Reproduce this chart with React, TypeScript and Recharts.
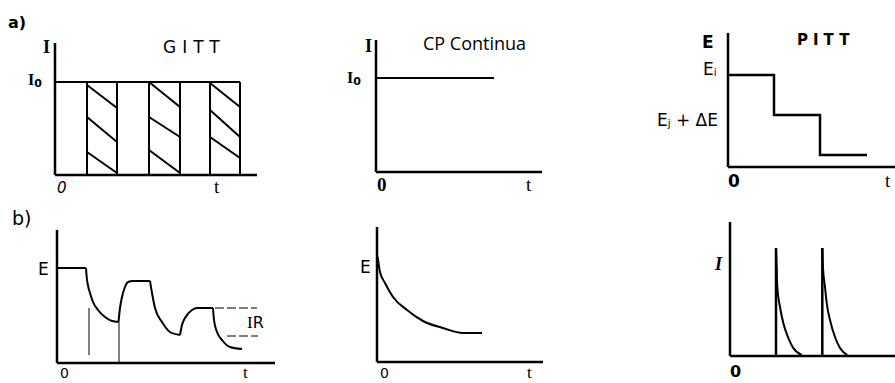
import React from 'react'
import { LineChart, Line, XAxis, YAxis } from 'recharts'

// one data unit = 10px in every panel
type Pt = [number, number]

// a) GITT: current pulses of height I0 with rest periods in between
const gittLevel = 9.3
const gittEdges = [3.2, 6.2, 9.4, 12.5, 15.5, 18.5]
const gittPulses: Pt[] = [[3.2, 6.2], [9.4, 12.5], [15.5, 18.5]]
// hatch strokes per pulse: [y at left edge, y at right edge]
const gittHatch: Pt[][] = [
  [[9.0, 6.7], [5.8, 3.3], [2.3, 0.2]],
  [[9.3, 6.8], [5.8, 3.8], [2.5, 0.2]],
  [[9.2, 6.8], [6.5, 3.8], [3.8, 1.7]],
]

// a) constant current
const cpLevel = 9.4
const cpEnd = 11.8

// a) PITT potential steps
const pittTimes = [0, 4.6, 9.2, 13.9]
const pittLevels = [9.2, 5.2, 1.2]

// b) GITT potential response
const gittRest0: Pt[] = [[0, 9.5], [2.9, 9.5]]
const gittDrop1: Pt[] = [[2.9, 9.5], [2.97, 8.6], [3.13, 7.6], [3.3, 7.0], [3.6, 6.1], [4.1, 5.3], [4.8, 4.6], [5.5, 4.2], [6.15, 4.1]]
const gittRise1: Pt[] = [[6.15, 4.1], [6.3, 5.5], [6.5, 6.6], [6.8, 7.6], [7.1, 8.1], [7.6, 8.2], [9.3, 8.2]]
const gittDrop2: Pt[] = [[9.3, 8.2], [9.5, 7.0], [9.8, 5.5], [10.5, 4.1], [11.3, 3.1], [12.3, 2.8]]
const gittRise2: Pt[] = [[12.3, 2.8], [12.5, 3.8], [12.8, 4.5], [13.5, 5.3], [14.0, 5.5], [15.6, 5.5]]
const gittDrop3: Pt[] = [[15.6, 5.5], [15.7, 4.3], [16.0, 3.1], [16.5, 2.3], [17.3, 1.6], [18.5, 1.4]]
const gittGuides: Pt[][] = [[[3.2, 0.8], [3.2, 5.5]], [[6.2, 0], [6.2, 4.1]]]
const gittIR: Pt[][] = [[[15.8, 5.5], [20.0, 5.5]], [[17.0, 2.7], [20.1, 2.7]]]

// b) potential under constant current
const cpDecay: Pt[] = [[0.07, 10.5], [0.3, 9.0], [0.8, 7.9], [1.6, 6.5], [3.0, 5.2], [4.6, 4.1], [6.6, 3.4], [8.6, 2.9], [10.5, 2.9]]

// b) PITT current transients
const pittSpikes = [4.6, 9.23]
const pittPeak = 10.8
const pittDecays: Pt[][] = [
  [[4.6, 10.8], [4.67, 8.8], [4.73, 6.9], [5.0, 4.9], [5.33, 3.3], [5.83, 1.8], [6.33, 0.8], [7.17, 0.1]],
  [[9.23, 10.8], [9.3, 8.8], [9.5, 6.9], [9.67, 5.3], [10.0, 3.6], [10.5, 1.9], [11.0, 0.8], [11.73, 0.1]],
]

const pts = (p: Pt[]) => p.map(([x, y]) => ({ x, y }))

function path(key: string, p: Pt[], curve: 'linear' | 'monotone' = 'linear', width = 2, dash?: string) {
  return (
    <Line
      key={key}
      data={pts(p)}
      dataKey="y"
      type={curve}
      stroke="#000"
      strokeWidth={width}
      strokeDasharray={dash}
      dot={false}
      activeDot={false}
      isAnimationActive={false}
    />
  )
}

function Panel({ box, children }: { box: number[]; children: React.ReactNode }) {
  const [left, top, right, bottom] = box
  const pad = 4
  const xMax = (right - left) / 10
  const yMax = (bottom - top) / 10
  return (
    <div style={{ position: 'absolute', left: left - pad, top: top - pad }}>
      <LineChart
        width={right - left + 2 * pad}
        height={bottom - top + 2 * pad}
        margin={{ top: pad, right: pad, bottom: pad, left: pad }}
      >
        <XAxis hide type="number" dataKey="x" domain={[0, xMax]} />
        <YAxis hide type="number" dataKey="y" domain={[0, yMax]} />
        {path('xaxis', [[0, 0], [xMax, 0]], 'linear', 2.5)}
        {path('yaxis', [[0, 0], [0, yMax]], 'linear', 2.5)}
        {children}
      </LineChart>
    </div>
  )
}

const sans = 'DejaVu Sans'
const serif = 'Liberation Serif'

export default function App() {
  const pittStep: Pt[] = []
  pittLevels.forEach((lv, i) => {
    pittStep.push([pittTimes[i], lv], [pittTimes[i + 1], lv])
  })

  return (
    <div style={{ position: 'absolute', left: 0, top: 0, width: 895, height: 383, overflow: 'hidden', background: '#fff' }}>
      <Panel box={[55, 43, 257, 175]}>
        {path('top', [[0, gittLevel], [gittEdges[gittEdges.length - 1], gittLevel]])}
        {gittEdges.map((e, i) => path('edge' + i, [[e, 0], [e, gittLevel]]))}
        {gittPulses.flatMap(([a, b], i) =>
          gittHatch[i].map(([y0, y1], j) => path(`h${i}${j}`, [[a, y0], [b, y1]]))
        )}
      </Panel>

      <Panel box={[376, 40, 542, 172]}>
        {path('cp', [[0, cpLevel], [cpEnd, cpLevel]])}
      </Panel>

      <Panel box={[728, 33, 905, 167]}>
        {path('steps', pittStep, 'linear', 2.5)}
      </Panel>

      <Panel box={[57, 230, 275, 363]}>
        {path('r0', gittRest0)}
        {path('d1', gittDrop1, 'monotone')}
        {path('u1', gittRise1, 'monotone')}
        {path('d2', gittDrop2, 'monotone')}
        {path('u2', gittRise2, 'monotone')}
        {path('d3', gittDrop3, 'monotone')}
        {gittGuides.map((g, i) => path('g' + i, g, 'linear', 1))}
        {gittIR.map((g, i) => path('ir' + i, g, 'linear', 1.2, '9 3'))}
      </Panel>

      <Panel box={[377, 227, 543, 362]}>
        {path('cpE', cpDecay, 'monotone')}
      </Panel>

      <Panel box={[730, 222, 905, 356]}>
        {pittSpikes.map((s, i) => path('sp' + i, [[s, 0], [s, pittPeak]], 'linear', 2.5))}
        {pittDecays.map((d, i) => path('dc' + i, d, 'monotone'))}
      </Panel>

      <svg width={895} height={383} style={{ position: 'absolute', left: 0, top: 0, pointerEvents: 'none' }}>
        <g fill="#000">
          <text x={8} y={28} fontFamily={sans} fontWeight="bold" fontSize={16}>a)</text>
          <text x={43} y={53} fontFamily={serif} fontWeight="bold" fontSize={18}>I</text>
          <text x={28} y={85} fontFamily={serif} fontWeight="bold" fontSize={16}>I<tspan fontSize={11} fontFamily={sans} dy={2}>0</tspan></text>
          <text x={163} y={53} fontFamily={sans} fontSize={17} letterSpacing={6}>GITT</text>
          <text x={57} y={193} fontFamily={sans} fontStyle="italic" fontSize={15}>0</text>
          <text x={214} y={193} fontFamily={serif} fontSize={19}>t</text>

          <text x={365} y={52} fontFamily={serif} fontWeight="bold" fontSize={18}>I</text>
          <text x={423} y={50} fontFamily="Open Sans" fontSize={18}>CP Continua</text>
          <text x={347} y={83} fontFamily={serif} fontWeight="bold" fontSize={16}>I<tspan fontSize={11} fontFamily={sans} dy={2}>0</tspan></text>
          <text x={377} y={191} fontFamily={serif} fontWeight="bold" fontSize={19}>0</text>
          <text x={526} y={191} fontFamily={serif} fontSize={19}>t</text>

          <text x={702} y={48} fontFamily={sans} fontWeight="bold" fontSize={17}>E</text>
          <text x={797} y={45} fontFamily={sans} fontWeight="bold" fontSize={15} letterSpacing={5}>PITT</text>
          <text x={703} y={75} fontFamily={sans} fontSize={17}>E<tspan fontSize={10} dy={1}>i</tspan></text>
          <text x={657} y={126} fontFamily={sans} fontSize={17}>E<tspan fontSize={10} dy={1}>j</tspan><tspan dy={-1}> + ΔE</tspan></text>
          <text x={728} y={187} fontFamily={sans} fontWeight="bold" fontSize={17}>0</text>
          <text x={885} y={187} fontFamily={serif} fontSize={19}>t</text>

          <text x={12} y={225} fontFamily={sans} fontSize={19}>b)</text>
          <text x={38} y={275} fontFamily={sans} fontSize={17}>E</text>
          <text x={60} y={378} fontFamily={sans} fontSize={14}>0</text>
          <text x={243} y={378} fontFamily={serif} fontSize={17}>t</text>
          <text x={247} y={328} fontFamily={serif} fontSize={17}>I<tspan fontFamily={sans} fontSize={16}>R</tspan></text>

          <text x={360} y={273} fontFamily={sans} fontSize={17}>E</text>
          <text x={380} y={378} fontFamily={sans} fontSize={14}>0</text>
          <text x={527} y={378} fontFamily={serif} fontSize={17}>t</text>

          <text x={715} y={270} fontFamily={serif} fontStyle="italic" fontWeight="bold" fontSize={18}>I</text>
          <text x={730} y={377} fontFamily={sans} fontWeight="bold" fontSize={16}>0</text>
        </g>
      </svg>
    </div>
  )
}
